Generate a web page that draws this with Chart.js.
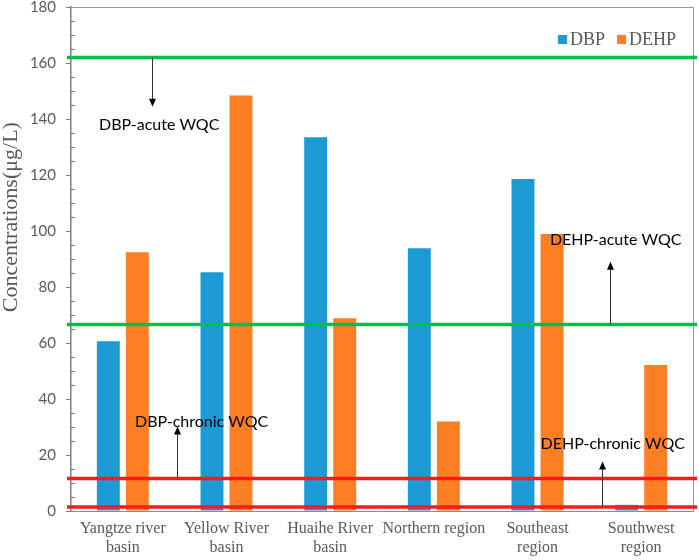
<!DOCTYPE html>
<html><head><meta charset="utf-8">
<script src="https://cdn.jsdelivr.net/npm/chart.js@4"></script>
<style>html,body{margin:0;padding:0;background:#fff}</style>
</head><body>
<canvas id="c" width="699" height="560"></canvas>
<script>
// ---- data ----
const categories = [["Yangtze river","basin"],["Yellow River","basin"],["Huaihe River","basin"],"Northern region",["Southeast","region"],["Southwest","region"]];
const dbpValues  = [60.6, 85.3, 133.5, 93.8, 118.6, 2.2];
const dehpValues = [92.4, 148.4, 68.8, 32.0, 98.9, 52.1];
const seriesNames = ["DBP", "DEHP"];
const wqcNames  = ["DBP-acute WQC", "DEHP-acute WQC", "DBP-chronic WQC", "DEHP-chronic WQC"];
const wqcValues = [162, 66.6, 11.6, 1.4];
const yMin = 0, yMax = 180, yStep = 20, yMinorStep = 5;

// ---- style / layout (not data) ----
const colors = ["#1C9AD6", "#FD7F23"];
const wqcColors = ["#00C04B", "#00C04B", "#FF1A1A", "#FF1A1A"];
// annotation placement: arrow x (category units), arrow tip value, text left (category units), text centre value
const annot = [
  {ax: 0.278, tip: 144.4, dir: -1, tx: -0.23, ty: 138.0},
  {ax: 4.70,  tip: 89.0,  dir: 1,  tx: 4.12,  ty: 96.9},
  {ax: 0.52,  tip: 30.2,  dir: 1,  tx: 0.117, ty: 31.9},
  {ax: 4.62,  tip: 17.7,  dir: 1,  tx: 4.03,  ty: 24.0}
];

const overlay = {
  id: 'overlay',
  afterDatasetsDraw(chart) {
    const ctx = chart.ctx, a = chart.chartArea;
    const xs = chart.scales.x, ys = chart.scales.y;
    ctx.save();
    // top and right frame
    ctx.strokeStyle = '#9a9a9a'; ctx.lineWidth = 1;
    ctx.beginPath();
    ctx.moveTo(a.left, a.top + 0.5); ctx.lineTo(a.right + 0.5, a.top + 0.5); ctx.lineTo(a.right + 0.5, a.bottom);
    ctx.stroke();
    // minor ticks (inside)
    ctx.strokeStyle = '#7f7f7f';
    for (let v = yMin; v <= yMax; v += yMinorStep) {
      if (v % yStep === 0) continue;
      const y = Math.round(ys.getPixelForValue(v)) + 0.5;
      ctx.beginPath(); ctx.moveTo(a.left, y); ctx.lineTo(a.left + 4, y); ctx.stroke();
    }
    // WQC lines
    wqcValues.forEach((v, i) => {
      const y = ys.getPixelForValue(v);
      ctx.strokeStyle = wqcColors[i]; ctx.lineWidth = 3.5;
      ctx.beginPath(); ctx.moveTo(a.left - 4, y); ctx.lineTo(a.right + 4, y); ctx.stroke();
    });
    // arrows and labels
    const catW = xs.getPixelForValue(1) - xs.getPixelForValue(0);
    const cx = u => xs.getPixelForValue(0) + u * catW;
    annot.forEach((o, i) => {
      const x = Math.round(cx(o.ax)) + 0.5;
      const y0 = ys.getPixelForValue(wqcValues[i]);
      const y1 = ys.getPixelForValue(o.tip);
      ctx.strokeStyle = '#333'; ctx.fillStyle = '#000'; ctx.lineWidth = 1;
      ctx.beginPath(); ctx.moveTo(x, y0); ctx.lineTo(x, y1 + (o.dir > 0 ? 6 : -6)); ctx.stroke();
      ctx.beginPath();
      ctx.moveTo(x, y1);
      ctx.lineTo(x - 3.5, y1 + (o.dir > 0 ? 8 : -8));
      ctx.lineTo(x + 3.5, y1 + (o.dir > 0 ? 8 : -8));
      ctx.closePath(); ctx.fill();
      ctx.font = '16px Lato'; ctx.textBaseline = 'middle'; ctx.textAlign = 'left';
      ctx.fillText(wqcNames[i], cx(o.tx), ys.getPixelForValue(o.ty));
    });
    // legend
    ctx.font = '18px "Liberation Serif"'; ctx.textBaseline = 'middle';
    let lx = a.right - 17;
    const ly = a.top + 33;
    for (let i = seriesNames.length - 1; i >= 0; i--) {
      const w = ctx.measureText(seriesNames[i]).width;
      ctx.fillStyle = '#595959'; ctx.textAlign = 'right';
      ctx.fillText(seriesNames[i], lx, ly);
      lx -= w + 3;
      ctx.fillStyle = colors[i];
      ctx.fillRect(lx - 9, ly - 5, 9, 9);
      lx -= 9 + 12;
    }
    // y title
    ctx.save();
    ctx.translate(11, a.top + (a.bottom - a.top) * 0.417);
    ctx.rotate(-Math.PI / 2);
    ctx.font = '22px "Liberation Serif"'; ctx.fillStyle = '#595959';
    ctx.textAlign = 'center'; ctx.textBaseline = 'middle';
    ctx.fillText('Concentrations(\u03bcg/L)', 0, 0);
    ctx.restore();
    ctx.restore();
  }
};

new Chart(document.getElementById('c'), {
  type: 'bar',
  data: {
    labels: categories,
    datasets: [
      {label: seriesNames[0], data: dbpValues, backgroundColor: colors[0]},
      {label: seriesNames[1], data: dehpValues, backgroundColor: colors[1]}
    ]
  },
  options: {
    responsive: false,
    animation: false,
    events: [],
    categoryPercentage: 0.56,
    barPercentage: 0.79,
    layout: {padding: {top: 7, right: 6, left: 0, bottom: 0}},
    plugins: {legend: {display: false}, tooltip: {enabled: false}},
    scales: {
      x: {
        grid: {display: false, drawTicks: false},
        border: {display: true, color: '#8c8c8c', width: 1},
        ticks: {font: {family: '"Liberation Serif"', size: 16, lineHeight: 1.15}, color: '#595959', padding: 9, maxRotation: 0, autoSkip: false},
        afterFit(s) { s.height = 49; s.paddingLeft = 0; s.paddingRight = 0; }
      },
      y: {
        min: yMin, max: yMax,
        grid: {drawOnChartArea: false, tickLength: 5, color: '#7f7f7f'},
        border: {display: true, color: '#7f7f7f', width: 1.5},
        ticks: {stepSize: yStep, font: {family: 'Lato', size: 15}, color: '#595959', padding: 10},
        afterFit(s) { s.width = 71; s.paddingTop = 0; s.paddingBottom = 0; }
      }
    }
  },
  plugins: [overlay]
});
</script>
</body></html>
